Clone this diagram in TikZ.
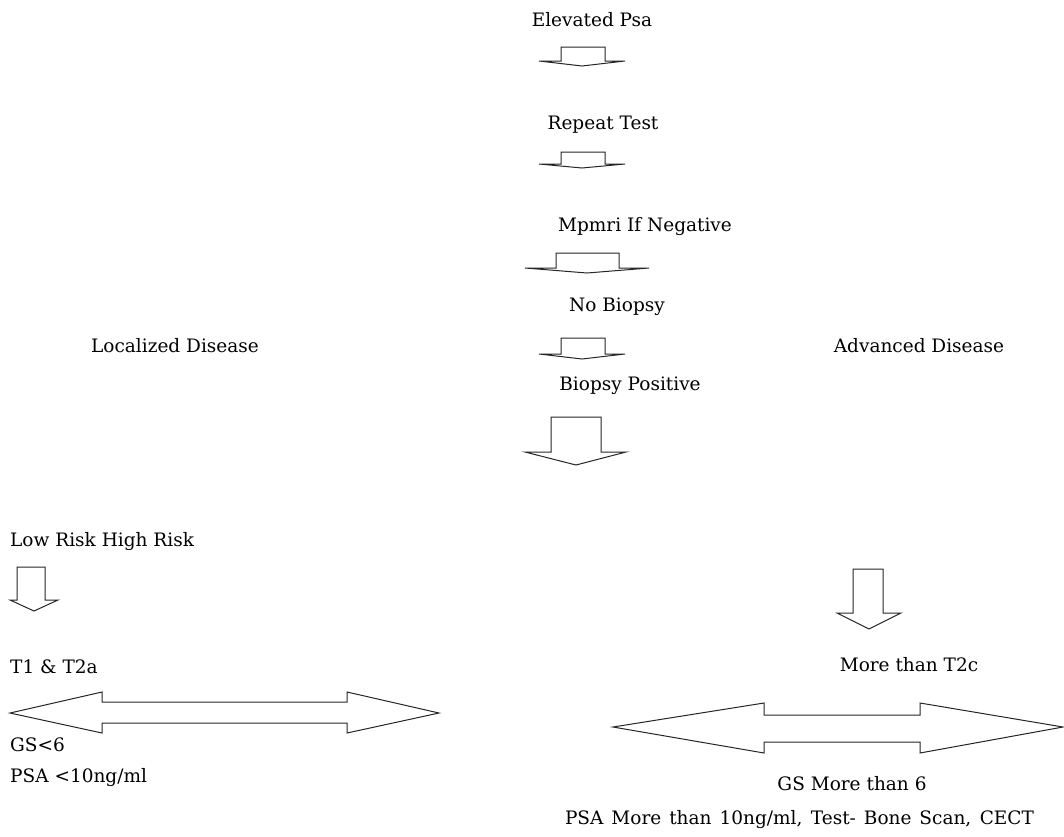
\documentclass[tikz,border=0pt]{standalone}
\usepackage{fontspec}
\setmainfont{DejaVu Serif}
\begin{document}
\begin{tikzpicture}[x=1pt,y=-1pt,
  lbl/.style={inner sep=0pt,font=\fontsize{18.5}{22}\selectfont,text=black},
  blk/.style={draw=black!85,line width=1pt,fill=white,line join=miter}]
\useasboundingbox (0,0) rectangle (1064,836);
% texts
\node[lbl] (elev) at (592,20) {Elevated Psa};
\node[lbl] (rep) at (603,125) {Repeat Test};
\node[lbl] (mp) at (645,227) {Mpmri If Negative};
\node[lbl] (nob) at (617,307) {No Biopsy};
\node[lbl] (loc) at (175,346) {Localized Disease};
\node[lbl] (adv) at (919,346) {Advanced Disease};
\node[lbl] (bp) at (630,386) {Biopsy Positive};
\node[lbl,anchor=west] (lr) at (10,542) {Low Risk High Risk};
\node[lbl,anchor=west] (t1) at (10,667) {T1 \& T2a};
\node[lbl] (t2c) at (909,665) {More than T2c};
\node[lbl,anchor=west] (gs6) at (10,745) {GS<6};
\node[lbl,anchor=west] (psa10) at (10,778) {PSA <10ng/ml};
\node[lbl] (gsm) at (852,784) {GS More than 6};
\node[lbl] (psam) at (799.5,820) {\makebox[469pt][s]{PSA More than 10ng/ml, Test- Bone Scan, CECT}};
% small flat down arrows
\draw[blk] (561,61) -- (561,47) -- (605,47) -- (605,61) -- (625,61) -- (582,66) -- (539,61) -- cycle;
\draw[blk] (561,164) -- (561,152) -- (605,152) -- (605,164) -- (625,164) -- (582,168) -- (539,164) -- cycle;
\draw[blk] (556,268) -- (556,253) -- (619,253) -- (619,268) -- (649,268) -- (587,273) -- (525,268) -- cycle;
\draw[blk] (561,354) -- (561,338) -- (605,338) -- (605,354) -- (625,354) -- (582,359) -- (539,354) -- cycle;
% larger down arrows
\draw[blk] (551,452) -- (551,417) -- (601,417) -- (601,452) -- (626,452) -- (576,465) -- (525,452) -- cycle;
\draw[blk] (17,600) -- (17,567) -- (45,567) -- (45,600) -- (58,600) -- (34,611) -- (10,600) -- cycle;
\draw[blk] (853,613) -- (853,569) -- (883,569) -- (883,613) -- (901,613) -- (869,629) -- (837,613) -- cycle;
% double arrows
\draw[blk] (10,713) -- (102,692) -- (102,702) -- (347,702) -- (347,692) -- (439,713) -- (347,733) -- (347,723) -- (102,723) -- (102,733) -- cycle;
\draw[blk] (613,727) -- (764,703) -- (764,715) -- (920,715) -- (920,703) -- (1063,727) -- (920,753) -- (920,742) -- (764,742) -- (764,753) -- cycle;
\end{tikzpicture}
\end{document}
